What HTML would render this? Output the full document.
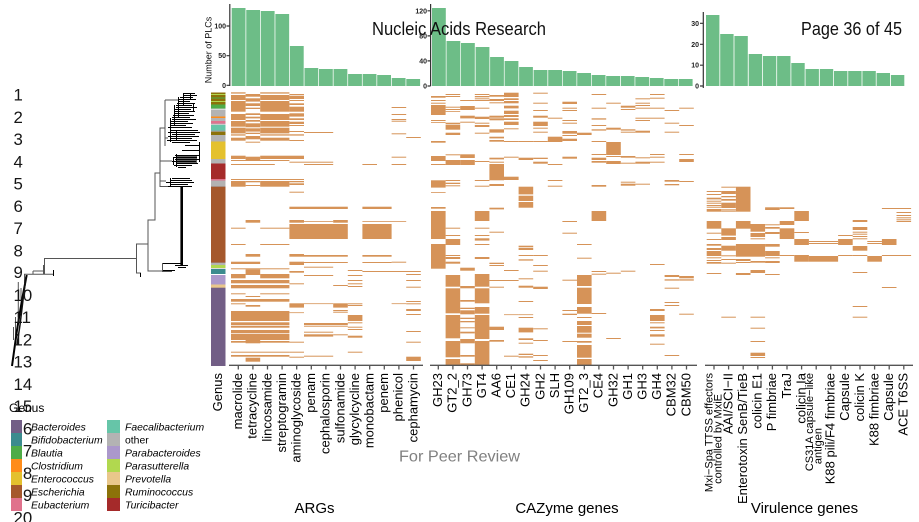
<!DOCTYPE html>
<html><head><meta charset="utf-8"><style>
html,body{margin:0;padding:0;background:#fff;}
svg{display:block;font-family:"Liberation Sans",sans-serif;}
.it{font-style:italic;}
</style></head><body>
<svg width="919" height="522" viewBox="0 0 919 522" xmlns="http://www.w3.org/2000/svg">
<rect width="919" height="522" fill="#fff"/>

<!-- ===== BAR CHARTS ===== -->
<g fill="#6dbd87">
<rect x="231.7" y="8" width="13.8" height="78"/>
<rect x="246.25" y="10" width="13.8" height="76"/>
<rect x="260.8" y="11" width="13.8" height="75"/>
<rect x="275.35" y="14" width="13.8" height="72"/>
<rect x="289.9" y="46" width="13.8" height="40"/>
<rect x="304.45" y="68" width="13.8" height="18"/>
<rect x="319" y="69" width="13.8" height="17"/>
<rect x="333.55" y="69" width="13.8" height="17"/>
<rect x="348.1" y="74" width="13.8" height="12"/>
<rect x="362.65" y="74" width="13.8" height="12"/>
<rect x="377.2" y="75" width="13.8" height="11"/>
<rect x="391.75" y="78" width="13.8" height="8"/>
<rect x="406.3" y="79" width="13.8" height="7"/>

<rect x="432" y="8" width="13.8" height="78"/>
<rect x="446.5" y="41" width="13.8" height="45"/>
<rect x="461" y="43" width="13.8" height="43"/>
<rect x="475.6" y="47" width="13.8" height="39"/>
<rect x="490.1" y="57" width="13.8" height="29"/>
<rect x="504.6" y="61" width="13.8" height="25"/>
<rect x="519.1" y="67" width="13.8" height="19"/>
<rect x="533.6" y="70" width="13.8" height="16"/>
<rect x="548.2" y="70" width="13.8" height="16"/>
<rect x="562.7" y="71" width="13.8" height="15"/>
<rect x="577.2" y="73" width="13.8" height="13"/>
<rect x="591.7" y="75" width="13.8" height="11"/>
<rect x="606.2" y="76" width="13.8" height="10"/>
<rect x="620.8" y="76" width="13.8" height="10"/>
<rect x="635.3" y="77" width="13.8" height="9"/>
<rect x="649.8" y="78" width="13.8" height="8"/>
<rect x="664.3" y="79" width="13.8" height="7"/>
<rect x="678.8" y="79" width="13.8" height="7"/>

<rect x="706" y="15" width="13.4" height="71"/>
<rect x="720.2" y="34" width="13.4" height="52"/>
<rect x="734.4" y="36" width="13.4" height="50"/>
<rect x="748.7" y="54" width="13.4" height="32"/>
<rect x="762.9" y="56" width="13.4" height="30"/>
<rect x="777.1" y="56" width="13.4" height="30"/>
<rect x="791.3" y="63" width="13.4" height="23"/>
<rect x="805.5" y="69" width="13.4" height="17"/>
<rect x="819.8" y="69" width="13.4" height="17"/>
<rect x="834" y="71" width="13.4" height="15"/>
<rect x="848.2" y="71" width="13.4" height="15"/>
<rect x="862.4" y="71" width="13.4" height="15"/>
<rect x="876.6" y="73" width="13.4" height="13"/>
<rect x="890.9" y="75" width="13.4" height="11"/>
</g>

<!-- bar axes -->
<g stroke="#333" stroke-width="1.2" fill="none">
<path d="M229.8,4V86 M226.5,26H229.8 M226.5,55.7H229.8 M226.5,85.3H229.8"/>
<path d="M430.6,4V86 M427.5,10.8H430.6 M427.5,35.9H430.6 M427.5,60.9H430.6 M427.5,86H430.6"/>
<path d="M703.3,12V88 M700,23.3H703.3 M700,44.3H703.3 M700,65.2H703.3 M700,86H703.3"/>
</g>
<g font-size="7" fill="#222" text-anchor="end" font-weight="bold">
<text x="226" y="28.5">100</text><text x="226" y="58.2">50</text><text x="226" y="87.8">0</text>
<text x="427" y="13.3">120</text><text x="427" y="38.4">80</text><text x="427" y="63.4">40</text><text x="427" y="88.5">0</text>
<text x="699" y="25.8">30</text><text x="699" y="46.8">20</text><text x="699" y="67.7">10</text><text x="699" y="88.5">0</text>
</g>
<text transform="translate(211.5,50) rotate(-90)" text-anchor="middle" font-size="9" fill="#111">Number of PLCs</text>

<text x="372" y="35" font-size="18.5" fill="#111" textLength="174" lengthAdjust="spacingAndGlyphs">Nucleic Acids Research</text>
<text x="801" y="35" font-size="18.5" fill="#111" textLength="101" lengthAdjust="spacingAndGlyphs">Page 36 of 45</text>

<!-- ===== GENUS BAR ===== -->
<g>
<rect x="211" y="92.5" width="14.5" height="273.5" fill="#725e86"/>
<rect x="211" y="92.5" width="14.5" height="1.5" fill="#8c7209"/>
<rect x="211" y="94" width="14.5" height="1" fill="#b1d84f"/>
<rect x="211" y="95" width="14.5" height="2.5" fill="#8c7209"/>
<rect x="211" y="97.5" width="14.5" height="1" fill="#4fac47"/>
<rect x="211" y="98.5" width="14.5" height="2.5" fill="#8c7209"/>
<rect x="211" y="101" width="14.5" height="1" fill="#b1d84f"/>
<rect x="211" y="102" width="14.5" height="2.5" fill="#8c7209"/>
<rect x="211" y="104.5" width="14.5" height="4.2" fill="#4fac47"/>
<rect x="211" y="108.7" width="14.5" height="0.8" fill="#fff"/>
<rect x="211" y="109.5" width="14.5" height="7" fill="#b3b3b3"/>
<rect x="211" y="116.5" width="14.5" height="1.5" fill="#ff8c1a"/>
<rect x="211" y="118" width="14.5" height="3" fill="#b3b3b3"/>
<rect x="211" y="121" width="14.5" height="2.7" fill="#e0728c"/>
<rect x="211" y="123.7" width="14.5" height="1.3" fill="#c8c8c8"/>
<rect x="211" y="125" width="14.5" height="5.7" fill="#66c5a8"/>
<rect x="211" y="130.7" width="14.5" height="1" fill="#b3b3b3"/>
<rect x="211" y="131.7" width="14.5" height="3.3" fill="#8c7209"/>
<rect x="211" y="135" width="14.5" height="6.5" fill="#b3b3b3"/>
<rect x="211" y="141.5" width="14.5" height="17.5" fill="#e4c12e"/>
<rect x="211" y="159" width="14.5" height="4.5" fill="#b3b3b3"/>
<rect x="211" y="163.5" width="14.5" height="15.5" fill="#a52a2a"/>
<rect x="211" y="179" width="14.5" height="1.5" fill="#e0728c"/>
<rect x="211" y="180.5" width="14.5" height="6.2" fill="#b3b3b3"/>
<rect x="211" y="186.7" width="14.5" height="76" fill="#a5582c"/>
<rect x="211" y="262.7" width="14.5" height="2.3" fill="#b3b3b3"/>
<rect x="211" y="265" width="14.5" height="3" fill="#b1d84f"/>
<rect x="211" y="268" width="14.5" height="1" fill="#ddd"/>
<rect x="211" y="269" width="14.5" height="5" fill="#3b8b8e"/>
<rect x="211" y="274" width="14.5" height="1" fill="#fff"/>
<rect x="211" y="275" width="14.5" height="9.5" fill="#ab98cb"/>
<rect x="211" y="284.5" width="14.5" height="3.2" fill="#e9c78b"/>
</g>

<!-- ===== HEATMAPS ===== -->
<g fill="#d69358">
<g transform="translate(231,0)">
<rect y="92.3" height="1.3" width="14.6"/><rect y="95" height="5" width="14.6"/><rect y="101" height="10.7" width="14.6"/><rect y="114" height="6" width="14.6"/><rect y="121" height="5.7" width="14.6"/><rect y="127.7" height="5.7" width="14.6"/><rect y="134.3" height="1.3" width="14.6"/><rect y="137.7" height="3" width="14.6"/><rect y="155.7" height="3.3" width="14.6"/><rect y="181" height="5.7" width="14.6"/><rect y="227.7" height="1" width="14.6"/><rect y="244" height="1" width="14.6"/><rect y="274" height="4.3" width="14.6"/><rect y="293.3" height="1" width="14.6"/><rect y="303.3" height="1" width="14.6"/>
<rect y="160" height="1" width="58.4"/><rect y="164" height="1" width="43.8"/><rect y="179" height="1" width="73"/><rect y="261.7" height="2.3" width="29.2"/><rect y="268.3" height="1" width="58.4"/><rect y="280" height="3.3" width="58.4"/><rect y="285" height="3.3" width="58.4"/><rect y="299" height="2.7" width="58.4"/><rect y="311" height="10" width="58.4"/><rect y="322.3" height="2.7" width="58.4"/><rect y="325.7" height="2" width="58.4"/><rect y="330" height="3.3" width="58.4"/><rect y="334" height="6" width="58.4"/><rect y="341" height="1.7" width="58.4"/><rect y="351.7" height="1" width="58.4"/><rect y="355" height="1.7" width="58.4"/>
</g>
<g transform="translate(245.6,0)">
<rect y="94" height="2.7" width="14.6"/><rect y="98.3" height="3.3" width="14.6"/><rect y="103.3" height="2.7" width="14.6"/><rect y="107.7" height="1.3" width="14.6"/><rect y="113.3" height="1.7" width="14.6"/><rect y="116.7" height="1.7" width="14.6"/><rect y="120" height="1.7" width="14.6"/><rect y="123.3" height="4" width="14.6"/><rect y="128.3" height="3.3" width="14.6"/><rect y="132.7" height="1.3" width="14.6"/><rect y="136" height="3.3" width="14.6"/><rect y="141.7" height="1" width="14.6"/><rect y="156.7" height="3.3" width="14.6"/><rect y="181" height="1.3" width="14.6"/><rect y="185" height="1" width="14.6"/><rect y="220" height="2.7" width="14.6"/><rect y="254" height="2.7" width="14.6"/><rect y="269.3" height="5.7" width="14.6"/><rect y="296" height="1" width="14.6"/><rect y="305" height="1.7" width="14.6"/><rect y="339.3" height="4" width="14.6"/><rect y="357.7" height="4" width="14.6"/>
</g>
<g transform="translate(260.2,0)">
<rect y="92.3" height="1.3" width="29.2"/><rect y="95" height="5" width="29.2"/><rect y="101" height="10.7" width="29.2"/><rect y="114" height="6" width="29.2"/><rect y="121" height="5.7" width="29.2"/><rect y="127.7" height="5.7" width="29.2"/><rect y="134.3" height="1.3" width="29.2"/><rect y="137.7" height="3" width="29.2"/><rect y="181" height="5.7" width="29.2"/><rect y="227.7" height="1" width="29.2"/><rect y="244" height="1" width="29.2"/><rect y="274" height="4.3" width="29.2"/><rect y="293.3" height="1" width="29.2"/><rect y="155.7" height="3.3" width="43.8"/>
</g>
<g transform="translate(289.4,0)">
<rect y="94" height="1" width="14.6"/><rect y="95.7" height="3.3" width="14.6"/><rect y="100" height="1" width="14.6"/><rect y="103.3" height="1.7" width="14.6"/><rect y="106.7" height="5" width="14.6"/><rect y="113.3" height="3.3" width="14.6"/><rect y="118.3" height="1.7" width="14.6"/><rect y="121.7" height="2.3" width="14.6"/><rect y="125" height="1" width="14.6"/><rect y="131" height="1" width="14.6"/><rect y="134.3" height="1.3" width="14.6"/><rect y="140" height="1" width="14.6"/><rect y="161.7" height="1" width="14.6"/><rect y="181" height="1.3" width="14.6"/><rect y="183.3" height="1.7" width="14.6"/><rect y="191.7" height="1" width="14.6"/><rect y="220" height="2.7" width="14.6"/><rect y="254" height="2.7" width="14.6"/><rect y="261.7" height="3.3" width="14.6"/><rect y="271" height="1.7" width="14.6"/><rect y="283.3" height="1" width="14.6"/><rect y="303.3" height="4.3" width="14.6"/><rect y="312.3" height="0.8" width="14.6"/><rect y="341.7" height="1" width="14.6"/><rect y="351.7" height="1" width="14.6"/><rect y="356.7" height="1" width="14.6"/>
<rect y="206.7" height="2.3" width="58.4"/><rect y="224" height="15" width="58.4"/>
</g>
<g transform="translate(304,0)">
<rect y="132" height="1" width="29.2"/><rect y="161.7" height="1" width="29.2"/><rect y="164" height="1" width="29.2"/><rect y="221" height="0.8" width="29.2"/><rect y="266.7" height="1" width="29.2"/><rect y="275" height="1" width="29.2"/><rect y="303.3" height="0.8" width="29.2"/><rect y="331.7" height="1" width="29.2"/><rect y="334.3" height="2.3" width="29.2"/><rect y="355.7" height="1" width="29.2"/>
<rect y="255" height="1.7" width="43.8"/><rect y="262" height="1" width="43.8"/><rect y="323" height="2" width="43.8"/><rect y="325.7" height="1" width="43.8"/>
</g>
<g transform="translate(333.2,0)">
<rect y="220" height="2.7" width="14.6"/><rect y="285" height="1" width="14.6"/><rect y="303.3" height="4.3" width="14.6"/><rect y="310" height="1" width="14.6"/><rect y="311.7" height="1" width="14.6"/><rect y="334.3" height="1" width="14.6"/>
</g>
<g transform="translate(347.8,0)">
<rect y="270" height="1" width="14.6"/><rect y="275" height="1" width="14.6"/><rect y="280" height="1" width="14.6"/><rect y="283.3" height="1" width="14.6"/><rect y="286" height="1" width="14.6"/><rect y="303.3" height="1" width="14.6"/><rect y="305" height="1" width="14.6"/><rect y="315" height="6" width="14.6"/><rect y="322.3" height="1" width="14.6"/><rect y="326.7" height="1" width="14.6"/><rect y="329" height="1" width="14.6"/><rect y="335.7" height="2" width="14.6"/><rect y="351.7" height="1" width="14.6"/>
</g>
<g transform="translate(362.4,0)">
<rect y="206.7" height="2.3" width="29.2"/><rect y="224" height="15" width="29.2"/><rect y="255" height="1.7" width="29.2"/><rect y="262" height="1" width="29.2"/><rect y="164" height="1" width="14.6"/><rect y="221" height="0.8" width="43.8"/><rect y="271" height="1" width="58.4"/>
</g>
<g transform="translate(391.6,0)">
<rect y="107" height="1" width="14.6"/><rect y="114" height="1" width="14.6"/><rect y="119" height="1" width="14.6"/><rect y="120.7" height="1" width="14.6"/><rect y="133.3" height="1" width="14.6"/><rect y="156.7" height="1" width="14.6"/><rect y="164" height="1" width="14.6"/><rect y="261.7" height="1" width="14.6"/><rect y="303.3" height="0.8" width="14.6"/>
</g>
<g transform="translate(406.2,0)">
<rect y="137" height="1" width="14.6"/><rect y="274" height="1" width="14.6"/><rect y="280" height="1" width="14.6"/><rect y="286.7" height="1" width="14.6"/><rect y="301" height="1" width="14.6"/><rect y="303.3" height="1" width="14.6"/><rect y="309" height="2" width="14.6"/><rect y="314" height="1" width="14.6"/><rect y="331" height="1" width="14.6"/><rect y="341.7" height="1" width="14.6"/><rect y="356.7" height="4.3" width="14.6"/>
</g>

<!-- CAZyme -->
<g transform="translate(431,0)">
<rect y="96" height="1.7" width="14.6"/><rect y="100" height="1" width="14.6"/><rect y="102.7" height="1" width="14.6"/><rect y="105" height="10" width="14.6"/><rect y="120" height="1" width="14.6"/><rect y="122" height="0.8" width="14.6"/><rect y="141" height="1.7" width="14.6"/><rect y="156" height="5" width="14.6"/><rect y="164" height="1" width="14.6"/><rect y="180.3" height="7.3" width="14.6"/><rect y="192" height="0.8" width="14.6"/><rect y="207" height="1.7" width="14.6"/><rect y="211" height="28" width="14.6"/><rect y="244" height="24.7" width="14.6"/>
</g>
<g transform="translate(445.6,0)">
<rect y="94" height="1" width="14.6"/><rect y="96" height="1" width="14.6"/><rect y="106.7" height="1" width="14.6"/><rect y="109" height="1" width="14.6"/><rect y="111" height="0.8" width="14.6"/><rect y="122.7" height="1.7" width="14.6"/><rect y="125" height="4.7" width="14.6"/><rect y="132.7" height="2.3" width="14.6"/><rect y="154.3" height="1" width="14.6"/><rect y="160" height="5" width="14.6"/><rect y="180" height="1" width="14.6"/><rect y="182.7" height="1.3" width="14.6"/><rect y="185.3" height="1" width="14.6"/><rect y="227.7" height="1" width="14.6"/><rect y="235" height="1" width="14.6"/><rect y="239" height="6" width="14.6"/><rect y="255" height="1" width="14.6"/><rect y="257" height="2" width="14.6"/><rect y="261.7" height="2" width="14.6"/><rect y="275" height="11.7" width="14.6"/><rect y="288.3" height="25" width="14.6"/><rect y="315" height="23.3" width="14.6"/><rect y="341" height="16.3" width="14.6"/><rect y="359" height="6" width="14.6"/>
</g>
<g transform="translate(460.2,0)">
<rect y="100" height="1" width="14.6"/><rect y="106" height="4" width="14.6"/><rect y="115.7" height="2.7" width="14.6"/><rect y="121.7" height="1" width="14.6"/><rect y="154.3" height="3.7" width="14.6"/><rect y="160" height="5" width="14.6"/><rect y="267.7" height="3" width="14.6"/><rect y="286" height="2.3" width="14.6"/><rect y="300" height="1.7" width="14.6"/><rect y="307.7" height="1.3" width="14.6"/><rect y="310.3" height="4" width="14.6"/><rect y="317.7" height="1.3" width="14.6"/><rect y="321" height="1.3" width="14.6"/><rect y="327.3" height="1" width="14.6"/><rect y="331.7" height="1.7" width="14.6"/><rect y="339" height="4.3" width="14.6"/><rect y="355" height="1.7" width="14.6"/><rect y="363.3" height="1.7" width="14.6"/>
</g>
<g transform="translate(474.8,0)">
<rect y="94" height="1" width="14.6"/><rect y="96" height="1.3" width="14.6"/><rect y="98.3" height="1" width="14.6"/><rect y="100" height="1" width="14.6"/><rect y="107.7" height="1" width="14.6"/><rect y="116.7" height="2.3" width="14.6"/><rect y="122.7" height="1" width="14.6"/><rect y="125" height="2" width="14.6"/><rect y="132.7" height="1" width="14.6"/><rect y="161" height="1" width="14.6"/><rect y="180" height="1" width="14.6"/><rect y="185.7" height="1" width="14.6"/><rect y="211" height="10" width="14.6"/><rect y="227.7" height="1" width="14.6"/><rect y="235" height="1" width="14.6"/><rect y="238.3" height="2.3" width="14.6"/><rect y="244" height="1" width="14.6"/><rect y="257" height="2" width="14.6"/><rect y="274" height="12.7" width="14.6"/><rect y="288.3" height="15" width="14.6"/><rect y="307" height="6.7" width="14.6"/><rect y="315" height="24" width="14.6"/><rect y="341" height="24" width="14.6"/>
</g>
<g transform="translate(489.4,0)">
<rect y="95" height="1.7" width="14.6"/><rect y="99" height="2" width="14.6"/><rect y="102.3" height="1" width="14.6"/><rect y="115.7" height="2" width="14.6"/><rect y="118.3" height="2" width="14.6"/><rect y="129.3" height="3.3" width="14.6"/><rect y="136.7" height="1.7" width="14.6"/><rect y="140" height="1.7" width="14.6"/><rect y="157.7" height="1.7" width="14.6"/><rect y="161.7" height="1" width="14.6"/><rect y="164" height="16.3" width="14.6"/><rect y="184" height="2" width="14.6"/><rect y="207.7" height="1.7" width="14.6"/><rect y="231.7" height="1" width="14.6"/><rect y="262.7" height="1.3" width="14.6"/><rect y="265" height="1" width="14.6"/><rect y="280" height="1" width="14.6"/><rect y="286.7" height="1" width="14.6"/><rect y="326.7" height="3.3" width="14.6"/><rect y="340" height="1.7" width="14.6"/>
</g>
<g transform="translate(504,0)">
<rect y="92.7" height="4.3" width="14.6"/><rect y="98.3" height="1.7" width="14.6"/><rect y="101" height="2.3" width="14.6"/><rect y="105.7" height="2.7" width="14.6"/><rect y="110.7" height="3.3" width="14.6"/><rect y="115" height="2" width="14.6"/><rect y="118.3" height="1.7" width="14.6"/><rect y="121.7" height="3.3" width="14.6"/><rect y="128.3" height="1" width="14.6"/><rect y="141" height="1" width="14.6"/><rect y="156.7" height="1" width="14.6"/><rect y="176.7" height="3.3" width="14.6"/><rect y="270" height="1" width="14.6"/><rect y="280" height="1" width="14.6"/><rect y="314.3" height="0.8" width="14.6"/><rect y="355.7" height="1" width="14.6"/>
</g>
<g transform="translate(518.6,0)">
<rect y="141" height="1" width="14.6"/><rect y="157.7" height="2.3" width="14.6"/><rect y="186.7" height="7.7" width="14.6"/><rect y="195.7" height="5.3" width="14.6"/><rect y="202" height="5.7" width="14.6"/><rect y="245.7" height="1.3" width="14.6"/><rect y="247.7" height="2.3" width="14.6"/><rect y="255" height="1" width="14.6"/><rect y="259.3" height="1.3" width="14.6"/><rect y="278.3" height="1" width="14.6"/><rect y="285.7" height="2" width="14.6"/><rect y="301" height="1" width="14.6"/><rect y="314.3" height="0.8" width="14.6"/><rect y="317" height="1" width="14.6"/><rect y="327.7" height="4.7" width="14.6"/><rect y="338.3" height="1.7" width="14.6"/><rect y="342.7" height="1" width="14.6"/><rect y="353.7" height="1.3" width="14.6"/><rect y="356.3" height="1.3" width="14.6"/>
</g>
<g transform="translate(533.2,0)">
<rect y="92.7" height="1" width="14.6"/><rect y="102.7" height="1" width="14.6"/><rect y="110" height="1" width="14.6"/><rect y="115.7" height="2" width="14.6"/><rect y="121.7" height="4.3" width="14.6"/><rect y="127.7" height="1" width="14.6"/><rect y="131.7" height="1" width="14.6"/><rect y="141" height="1" width="14.6"/><rect y="157.7" height="1.3" width="14.6"/><rect y="161.7" height="2" width="14.6"/><rect y="255" height="1" width="14.6"/><rect y="265" height="1" width="14.6"/><rect y="270.7" height="1" width="14.6"/><rect y="286.7" height="2.3" width="14.6"/><rect y="328.3" height="1" width="14.6"/><rect y="340" height="1" width="14.6"/><rect y="355" height="1" width="14.6"/><rect y="360" height="1" width="14.6"/>
</g>
<g transform="translate(547.8,0)">
<rect y="117.7" height="1" width="14.6"/><rect y="136.7" height="5.3" width="14.6"/><rect y="164" height="1" width="14.6"/><rect y="180" height="1" width="14.6"/><rect y="185.7" height="1" width="14.6"/>
</g>
<g transform="translate(562.4,0)">
<rect y="101.7" height="2.3" width="14.6"/><rect y="107.7" height="1" width="14.6"/><rect y="110" height="1" width="14.6"/><rect y="120" height="1" width="14.6"/><rect y="122.7" height="1" width="14.6"/><rect y="131" height="2.7" width="14.6"/><rect y="135" height="1" width="14.6"/><rect y="138.7" height="2.3" width="14.6"/><rect y="156.7" height="2" width="14.6"/><rect y="221" height="1" width="14.6"/><rect y="232.7" height="1" width="14.6"/><rect y="279.7" height="1" width="14.6"/><rect y="310" height="1" width="14.6"/><rect y="313.7" height="1.3" width="14.6"/><rect y="341" height="1" width="14.6"/>
</g>
<g transform="translate(577,0)">
<rect y="132.7" height="2.3" width="14.6"/><rect y="244" height="1" width="14.6"/><rect y="257.7" height="1" width="14.6"/><rect y="275" height="11" width="14.6"/><rect y="287.7" height="16.3" width="14.6"/><rect y="307" height="6.7" width="14.6"/><rect y="317" height="1" width="14.6"/><rect y="321" height="4" width="14.6"/><rect y="326" height="6.7" width="14.6"/><rect y="333.7" height="4" width="14.6"/><rect y="341" height="1.7" width="14.6"/><rect y="345" height="12.7" width="14.6"/><rect y="359" height="6" width="14.6"/>
</g>
<g transform="translate(591.6,0)">
<rect y="94" height="1" width="14.6"/><rect y="107.7" height="1" width="14.6"/><rect y="118.3" height="1.3" width="14.6"/><rect y="125" height="1" width="14.6"/><rect y="129.3" height="1.3" width="14.6"/><rect y="141" height="1" width="14.6"/><rect y="154" height="1" width="14.6"/><rect y="157.7" height="2.3" width="14.6"/><rect y="161" height="1.7" width="14.6"/><rect y="185" height="1.7" width="14.6"/><rect y="211" height="10" width="14.6"/><rect y="271" height="1" width="14.6"/><rect y="273.7" height="1" width="14.6"/><rect y="313" height="1" width="14.6"/>
</g>
<g transform="translate(606.2,0)">
<rect y="102.7" height="1" width="14.6"/><rect y="127.7" height="2" width="14.6"/><rect y="142" height="13" width="14.6"/><rect y="156" height="1" width="14.6"/><rect y="161" height="3" width="14.6"/><rect y="272.7" height="1" width="14.6"/><rect y="338" height="1" width="14.6"/>
</g>
<g transform="translate(620.8,0)">
<rect y="105.7" height="2" width="14.6"/><rect y="109" height="1" width="14.6"/><rect y="129.3" height="1.3" width="14.6"/><rect y="131.7" height="1" width="14.6"/><rect y="156" height="1.7" width="14.6"/><rect y="162.7" height="1" width="14.6"/><rect y="181.7" height="1" width="14.6"/><rect y="183.7" height="2" width="14.6"/><rect y="270.7" height="1" width="14.6"/>
</g>
<g transform="translate(635.4,0)">
<rect y="98.3" height="1" width="14.6"/><rect y="102.7" height="1" width="14.6"/><rect y="105" height="1" width="14.6"/><rect y="107.7" height="1" width="14.6"/><rect y="117.7" height="1" width="14.6"/><rect y="120" height="1" width="14.6"/><rect y="130.7" height="2" width="14.6"/><rect y="157.3" height="1" width="14.6"/><rect y="161.7" height="2" width="14.6"/><rect y="183.7" height="1" width="14.6"/>
</g>
<g transform="translate(650,0)">
<rect y="94" height="1" width="14.6"/><rect y="97.7" height="1" width="14.6"/><rect y="107.7" height="1" width="14.6"/><rect y="117.7" height="1" width="14.6"/><rect y="154" height="1" width="14.6"/><rect y="156.7" height="1" width="14.6"/><rect y="161.7" height="1" width="14.6"/><rect y="264" height="1" width="14.6"/><rect y="309" height="2" width="14.6"/><rect y="315" height="6" width="14.6"/><rect y="322.3" height="1" width="14.6"/><rect y="326.7" height="1.7" width="14.6"/><rect y="330" height="1" width="14.6"/><rect y="334.3" height="2.3" width="14.6"/><rect y="343.7" height="1" width="14.6"/>
</g>
<g transform="translate(664.6,0)">
<rect y="110" height="1" width="14.6"/><rect y="122.7" height="1" width="14.6"/><rect y="131.7" height="1" width="14.6"/><rect y="180" height="1.7" width="14.6"/><rect y="184" height="1.3" width="14.6"/><rect y="275" height="2" width="14.6"/><rect y="279.3" height="1.3" width="14.6"/><rect y="287.7" height="1" width="14.6"/><rect y="302" height="1" width="14.6"/><rect y="305" height="1" width="14.6"/><rect y="355" height="1" width="14.6"/>
</g>
<g transform="translate(679.2,0)">
<rect y="107.7" height="1" width="14.6"/><rect y="125" height="1" width="14.6"/><rect y="154" height="1" width="14.6"/><rect y="159" height="3" width="14.6"/><rect y="181" height="1" width="14.6"/><rect y="276" height="2.3" width="14.6"/><rect y="279.3" height="1.3" width="14.6"/><rect y="313.7" height="1" width="14.6"/>
</g>

<!-- Virulence -->
<g transform="translate(706.7,0)">
<rect y="191" height="1" width="14.6"/><rect y="194" height="1" width="14.6"/><rect y="197.7" height="1.7" width="14.6"/><rect y="200.7" height="1" width="14.6"/><rect y="202.7" height="1" width="14.6"/><rect y="205" height="1" width="14.6"/><rect y="206.7" height="1" width="14.6"/><rect y="209" height="2.7" width="14.6"/><rect y="221" height="7.7" width="14.6"/><rect y="232.7" height="1" width="14.6"/><rect y="239" height="1" width="14.6"/><rect y="244" height="1.7" width="14.6"/><rect y="248" height="2" width="14.6"/><rect y="251" height="5" width="14.6"/><rect y="257.3" height="1" width="14.6"/><rect y="260" height="1" width="14.6"/><rect y="262" height="1.7" width="14.6"/><rect y="273" height="1" width="14.6"/>
</g>
<g transform="translate(721.3,0)">
<rect y="186.7" height="1" width="14.6"/><rect y="191" height="3" width="14.6"/><rect y="196" height="1.3" width="14.6"/><rect y="199" height="1.7" width="14.6"/><rect y="202.7" height="5.3" width="14.6"/><rect y="209.3" height="1" width="14.6"/><rect y="210.7" height="1" width="14.6"/><rect y="228.3" height="7.3" width="14.6"/><rect y="237" height="3" width="14.6"/><rect y="245.7" height="5" width="14.6"/><rect y="255.3" height="1" width="14.6"/><rect y="259" height="1" width="14.6"/><rect y="262.7" height="1" width="14.6"/><rect y="316.7" height="1" width="14.6"/>
</g>
<g transform="translate(735.9,0)">
<rect y="186.7" height="25" width="14.6"/><rect y="221" height="7.7" width="14.6"/><rect y="244" height="12.7" width="14.6"/><rect y="259" height="2" width="14.6"/><rect y="262" height="1" width="14.6"/><rect y="273" height="2" width="14.6"/>
</g>
<g transform="translate(750.5,0)">
<rect y="224" height="7.7" width="14.6"/><rect y="233" height="4" width="14.6"/><rect y="238.3" height="1" width="14.6"/><rect y="244" height="12.7" width="14.6"/><rect y="261" height="1.7" width="14.6"/><rect y="270" height="3" width="14.6"/><rect y="316.7" height="1" width="14.6"/><rect y="327.7" height="1" width="14.6"/><rect y="341" height="1" width="14.6"/><rect y="352.7" height="3.3" width="14.6"/><rect y="357" height="1" width="14.6"/>
</g>
<g transform="translate(765.1,0)">
<rect y="207.3" height="2.7" width="14.6"/><rect y="224.3" height="1" width="14.6"/><rect y="227" height="1.7" width="14.6"/><rect y="232" height="2" width="14.6"/><rect y="244" height="2.7" width="14.6"/><rect y="251" height="5" width="14.6"/><rect y="257.3" height="1" width="14.6"/><rect y="261" height="2" width="14.6"/><rect y="274" height="1" width="14.6"/>
</g>
<g transform="translate(779.7,0)">
<rect y="207.3" height="1.7" width="14.6"/><rect y="221" height="4" width="14.6"/><rect y="228.3" height="10.7" width="14.6"/><rect y="255" height="1" width="14.6"/>
</g>
<g transform="translate(794.3,0)">
<rect y="211" height="10" width="14.6"/><rect y="232" height="1" width="14.6"/><rect y="239" height="6" width="14.6"/><rect y="255" height="6.7" width="14.6"/>
</g>
<g transform="translate(808.9,0)">
<rect y="241" height="1" width="29.2"/><rect y="243" height="1" width="29.2"/><rect y="256" height="5.7" width="29.2"/>
</g>
<g transform="translate(838.1,0)">
<rect y="235" height="1" width="14.6"/><rect y="239" height="6" width="14.6"/><rect y="255" height="1" width="14.6"/>
</g>
<g transform="translate(852.7,0)">
<rect y="220" height="2" width="14.6"/><rect y="227" height="3" width="14.6"/><rect y="231.7" height="1" width="14.6"/><rect y="233.7" height="1" width="14.6"/><rect y="236" height="1" width="14.6"/><rect y="238.3" height="1" width="14.6"/><rect y="246" height="4.7" width="14.6"/><rect y="255" height="1" width="14.6"/><rect y="272" height="1" width="14.6"/><rect y="306" height="1" width="14.6"/><rect y="316.7" height="1" width="14.6"/>
</g>
<g transform="translate(867.3,0)">
<rect y="241" height="1" width="14.6"/><rect y="243" height="1" width="14.6"/><rect y="256" height="5.7" width="14.6"/>
</g>
<g transform="translate(881.9,0)">
<rect y="208" height="1" width="14.6"/><rect y="239" height="6" width="14.6"/><rect y="255" height="1" width="14.6"/><rect y="287" height="1" width="14.6"/>
</g>
<g transform="translate(896.5,0)">
<rect y="208" height="1" width="14.6"/><rect y="212" height="1" width="14.6"/><rect y="215" height="1" width="14.6"/><rect y="217.3" height="1" width="14.6"/><rect y="219.3" height="1" width="14.6"/><rect y="221" height="1" width="14.6"/><rect y="255" height="1" width="14.6"/>
</g>
</g>

<!-- heatmap x axes -->
<g stroke="#555" stroke-width="1.3" fill="none">
<path d="M229,365.3H423 M430,365.3H697 M705,365.3H913"/>
<path d="M238.3,365V369.5 M252.9,365V369.5 M267.5,365V369.5 M282.1,365V369.5 M296.7,365V369.5 M311.3,365V369.5 M325.9,365V369.5 M340.5,365V369.5 M355.1,365V369.5 M369.7,365V369.5 M384.3,365V369.5 M398.9,365V369.5 M413.5,365V369.5"/>
<path d="M438.3,365V369.5 M452.9,365V369.5 M467.5,365V369.5 M482.1,365V369.5 M496.7,365V369.5 M511.3,365V369.5 M525.9,365V369.5 M540.5,365V369.5 M555.1,365V369.5 M569.7,365V369.5 M584.3,365V369.5 M598.9,365V369.5 M613.5,365V369.5 M628.1,365V369.5 M642.7,365V369.5 M657.3,365V369.5 M671.9,365V369.5 M686.5,365V369.5"/>
<path d="M714,365V369.5 M728.6,365V369.5 M743.2,365V369.5 M757.8,365V369.5 M772.4,365V369.5 M787,365V369.5 M801.6,365V369.5 M816.2,365V369.5 M830.8,365V369.5 M845.4,365V369.5 M860,365V369.5 M874.6,365V369.5 M889.2,365V369.5 M903.8,365V369.5"/>
</g>

<!-- bottom labels -->
<g font-size="13" fill="#000" text-anchor="end">
<text transform="translate(222,373) rotate(-90)">Genus</text>
<text transform="translate(242.1,373) rotate(-90)">macrolide</text>
<text transform="translate(256.7,373) rotate(-90)">tetracycline</text>
<text transform="translate(271.3,373) rotate(-90)">lincosamide</text>
<text transform="translate(285.9,373) rotate(-90)">streptogramin</text>
<text transform="translate(300.5,373) rotate(-90)">aminoglycoside</text>
<text transform="translate(315.1,373) rotate(-90)">penam</text>
<text transform="translate(329.7,373) rotate(-90)">cephalosporin</text>
<text transform="translate(344.3,373) rotate(-90)">sulfonamide</text>
<text transform="translate(358.9,373) rotate(-90)">glycylcycline</text>
<text transform="translate(373.5,373) rotate(-90)">monobactam</text>
<text transform="translate(388.1,373) rotate(-90)">penem</text>
<text transform="translate(402.7,373) rotate(-90)">phenicol</text>
<text transform="translate(417.3,373) rotate(-90)">cephamycin</text>

<text transform="translate(442.1,373) rotate(-90)">GH23</text>
<text transform="translate(456.7,373) rotate(-90)">GT2_2</text>
<text transform="translate(471.3,373) rotate(-90)">GH73</text>
<text transform="translate(485.9,373) rotate(-90)">GT4</text>
<text transform="translate(500.5,373) rotate(-90)">AA6</text>
<text transform="translate(515.1,373) rotate(-90)">CE1</text>
<text transform="translate(529.7,373) rotate(-90)">GH24</text>
<text transform="translate(544.3,373) rotate(-90)">GH2</text>
<text transform="translate(558.9,373) rotate(-90)">SLH</text>
<text transform="translate(573.5,373) rotate(-90)">GH109</text>
<text transform="translate(588.1,373) rotate(-90)">GT2_3</text>
<text transform="translate(602.7,373) rotate(-90)">CE4</text>
<text transform="translate(617.3,373) rotate(-90)">GH32</text>
<text transform="translate(631.9,373) rotate(-90)">GH1</text>
<text transform="translate(646.5,373) rotate(-90)">GH3</text>
<text transform="translate(661.1,373) rotate(-90)">GH4</text>
<text transform="translate(675.7,373) rotate(-90)">CBM32</text>
<text transform="translate(690.3,373) rotate(-90)">CBM50</text>

<text transform="translate(732.4,373) rotate(-90)">AAI/SCI−II</text>
<text transform="translate(747,373) rotate(-90)">Enterotoxin SenB/TieB</text>
<text transform="translate(761.6,373) rotate(-90)">colicin E1</text>
<text transform="translate(776.2,373) rotate(-90)">P fimbriae</text>
<text transform="translate(790.8,373) rotate(-90)">TraJ</text>
<text transform="translate(805.4,373) rotate(-90)">colicin Ia</text>
<text transform="translate(834.6,373) rotate(-90)">K88 pili/F4 fimbriae</text>
<text transform="translate(849.2,373) rotate(-90)">Capsule</text>
<text transform="translate(863.8,373) rotate(-90)">colicin K</text>
<text transform="translate(878.4,373) rotate(-90)">K88 fimbriae</text>
<text transform="translate(893,373) rotate(-90)">Capsule</text>
<text transform="translate(907.6,373) rotate(-90)">ACE T6SS</text>
</g>
<g font-size="11" fill="#000" text-anchor="end">
<text transform="translate(712.5,373) rotate(-90)">Mxi−Spa TTSS effectors</text>
<text transform="translate(721.5,394) rotate(-90)">controlled by MxiE</text>
<text transform="translate(813,373) rotate(-90)">CS31A capsule−like</text>
<text transform="translate(821.5,428) rotate(-90)">antigen</text>
</g>

<!-- section titles -->
<g font-size="15" fill="#000" text-anchor="middle">
<text x="314.5" y="513">ARGs</text>
<text x="567" y="513">CAZyme genes</text>
<text x="804.5" y="513">Virulence genes</text>
</g>
<text x="399" y="461.5" font-size="16" fill="#808080" textLength="121" lengthAdjust="spacingAndGlyphs">For Peer Review</text>

<!-- ===== TREE ===== -->
<g fill="none" stroke="#555" stroke-width="1">
<path d="M44,258.5H136.5 M44.5,258V274 M136.5,243.5V273.5 M136,273H141 M136,244H148 M148,219.5V271.5 M148,271H163 M162.5,263V272 M162,263.5H182 M162,271.5H172 M148,220H155 M155,172.5V220.5 M155,173H160 M160,127.5V187 M160,128H165 M165,100V146 M165,100H178 M165,138H168 M160,161H172 M160,181H166 M160,186.5H182"/>
<path d="M33,271H44 M24,274.3H53 M33,271V274.3 M43.5,265V274 M24.5,274V283 M18.3,282V317 M15.5,317V340 M21,288V300 M13.5,327V340"/>
</g>
<g fill="none" stroke="#000" stroke-width="1">
<path d="M184,93.5H195 M183,95.5H197 M180,97.5H193 M179,99.5H196 M178,101.5H190 M177,103.5H195 M176,105.5H192 M176,107.5H197 M175,109.5H191 M174,111.5H195 M174,113.5H189 M173,115.5H194 M172,117.5H190 M172,119.5H196 M171,121.5H188 M170,123.5H193 M170,125.5H186 M168,127.5H192 M183.5,93V105 M178.5,97V118 M174.5,105V125 M170.5,118V130 M190.5,94V100 M193.5,104V112"/>
<path d="M170,130.5H198 M168,132.5H200 M172,134.5H195 M168,136.5H199 M170,138.5H192 M167,140.5H197 M172,142.5H190 M170.5,128V142 M176.5,130V140"/>
<path d="M199.5,142V162 M185,145.5H200 M182,150.5H199 M175,155.5H200 M173,157.5H197 M175,159.5H199 M172,161.5H196 M176,163.5H198 M174,165.5H192 M178,167.5H186 M176.5,154V167 M173.5,157V165"/>
<path d="M172,178.5H190 M170,180.5H192 M166,182.5H194 M170,184.5H188 M168,186.5H192 M170.5,178V187"/>
<path d="M163,263.5H182 M175,265.5H188 M178,267.5H186 M163,270.5H175 M140.5,273V277 M53.5,270V276"/>
</g>
<rect x="177" y="155" width="20" height="9" fill="#000" opacity="0.6"/>
<path d="M181.7,186V265" stroke="#000" stroke-width="2.6"/>
<path d="M26.7,275 L22,300 L17,330 L12,366" stroke="#000" stroke-width="2" fill="none"/>
<path d="M26,277 L23,300 L20,325 L17,345" stroke="#111" stroke-width="1.5" fill="none"/>

<!-- page line numbers -->
<g font-size="16.8" fill="#151515">
<text x="13.5" y="100.7">1</text>
<text x="13.5" y="122.9">2</text>
<text x="13.5" y="145.2">3</text>
<text x="13.5" y="167.4">4</text>
<text x="13.5" y="189.7">5</text>
<text x="13.5" y="211.9">6</text>
<text x="13.5" y="234.2">7</text>
<text x="13.5" y="256.4">8</text>
<text x="13.5" y="278.2">9</text>
<text x="13.5" y="300.9">10</text>
<text x="13.5" y="323.2">11</text>
<text x="13.5" y="345.4">12</text>
<text x="13.5" y="367.7">13</text>
<text x="13.5" y="389.9">14</text>
<text x="13.5" y="412.2">15</text>
<text x="13.5" y="434.4">16</text>
<text x="13.5" y="456.7">17</text>
<text x="13.5" y="478.9">18</text>
<text x="13.5" y="501.2">19</text>
<text x="13.5" y="523.4">20</text>
</g>

<!-- ===== LEGEND ===== -->
<text x="9" y="412" font-size="12" fill="#000">Genus</text>
<g>
<rect x="11" y="420" width="11" height="13" fill="#725e86"/>
<rect x="11" y="433" width="11" height="13" fill="#3b8b8e"/>
<rect x="11" y="446" width="11" height="13" fill="#4fac47"/>
<rect x="11" y="459" width="11" height="13" fill="#ff8c1a"/>
<rect x="11" y="472" width="11" height="13" fill="#e4c12e"/>
<rect x="11" y="485" width="11" height="13" fill="#a5582c"/>
<rect x="11" y="498" width="11" height="13" fill="#e0728c"/>
<rect x="107" y="420" width="13" height="13" fill="#66c5a8"/>
<rect x="107" y="433" width="13" height="13" fill="#b3b3b3"/>
<rect x="107" y="446" width="13" height="13" fill="#ab98cb"/>
<rect x="107" y="459" width="13" height="13" fill="#b1d84f"/>
<rect x="107" y="472" width="13" height="13" fill="#e9c78b"/>
<rect x="107" y="485" width="13" height="13" fill="#8c7209"/>
<rect x="107" y="498" width="13" height="13" fill="#a52a2a"/>
</g>
<g font-size="10.4" fill="#000">
<text class="it" x="31" y="430.5">Bacteroides</text>
<text class="it" x="31" y="443.5">Bifidobacterium</text>
<text class="it" x="31" y="456.5">Blautia</text>
<text class="it" x="31" y="469.5">Clostridium</text>
<text class="it" x="31" y="482.5">Enterococcus</text>
<text class="it" x="31" y="495.5">Escherichia</text>
<text class="it" x="31" y="508.5">Eubacterium</text>
<text class="it" x="125" y="430.5">Faecalibacterium</text>
<text x="125" y="443.5">other</text>
<text class="it" x="125" y="456.5">Parabacteroides</text>
<text class="it" x="125" y="469.5">Parasutterella</text>
<text class="it" x="125" y="482.5">Prevotella</text>
<text class="it" x="125" y="495.5">Ruminococcus</text>
<text class="it" x="125" y="508.5">Turicibacter</text>
</g>
</svg>
</body></html>
